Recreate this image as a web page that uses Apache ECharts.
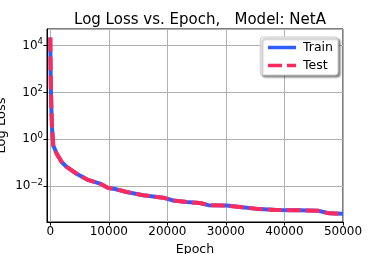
<!DOCTYPE html>
<html><head><meta charset="utf-8">
<script src="https://cdn.jsdelivr.net/npm/echarts@6/dist/echarts.min.js"></script>
<style>html,body{margin:0;padding:0;background:#fff}#c{width:382px;height:254px}</style>
</head><body><div id="c"></div>
<script>
var epochs = [0, 50, 120, 200, 300, 510, 1090, 1950, 2800, 4500, 6300, 8480, 9900, 11040, 13040, 15870, 19280, 21000, 23300, 25550, 27000, 30100, 32400, 35800, 38650, 42600, 45750, 47700, 50000];
var trainLog10 = [4.35, 3.0, 2.0, 1.2, 0.5, -0.26, -0.61, -0.97, -1.18, -1.47, -1.72, -1.89, -2.08, -2.12, -2.25, -2.39, -2.49, -2.61, -2.68, -2.72, -2.81, -2.83, -2.89, -2.98, -3.02, -3.03, -3.05, -3.16, -3.18];
var testLog10 = trainLog10.slice();
var yTicks = [-2, 0, 2, 4];
var xTicks = [0, 10000, 20000, 30000, 40000, 50000];

function pairs(xs, ys){ return xs.map(function(x,i){ return [x, ys[i]]; }); }
var chart = echarts.init(document.getElementById('c'), null, {renderer:'canvas'});
var font = 'DejaVu Sans';
chart.setOption({
  animation:false,
  title:{text:'Log Loss vs. Epoch,   Model: NetA', left:195, top:8, textAlign:'center',
    textStyle:{fontFamily:font, fontSize:15, fontWeight:'normal', color:'#000'}},
  grid:{left:47, right:39, top:29, bottom:32, containLabel:false, outerBoundsMode:'none',
    show:true, borderColor:'#000', borderWidth:1, backgroundColor:'transparent'},
  legend:{right:44, top:37, orient:'vertical', itemWidth:28, itemHeight:10, itemGap:5,
    padding:[4,5,3,6], backgroundColor:'#fff', borderColor:'#ccc', borderWidth:1, borderRadius:3,
    shadowColor:'rgba(0,0,0,0.45)', shadowBlur:2, shadowOffsetX:2, shadowOffsetY:2,
    itemStyle:{opacity:0}, lineStyle:{width:3.5},
    textStyle:{fontFamily:font, fontSize:12.5, color:'#000', padding:[0,0,0,2]},
    data:[{name:'Train'},{name:'Test'}]},
  xAxis:{type:'value', min:-560, max:50000, minInterval:10000, maxInterval:10000,
    name:'Epoch', nameLocation:'middle', nameGap:21, nameMoveOverlap:false,
    nameTextStyle:{fontFamily:font, fontSize:12.5, color:'#000'},
    axisLine:{show:true, onZero:false, lineStyle:{color:'#000'}},
    axisTick:{show:true, length:3.5, lineStyle:{color:'#000'}},
    axisLabel:{fontFamily:font, fontSize:12, color:'#000', margin:4, showMinLabel:false,
      formatter:function(v){ return xTicks.indexOf(v)>=0 ? String(v) : ''; }},
    splitLine:{show:true, lineStyle:{color:'#b0b0b0', width:1}}},
  yAxis:{type:'value', min:-3.53, max:4.71, minInterval:2, maxInterval:2,
    name:'Log Loss', nameLocation:'middle', nameGap:39, nameRotate:90, nameMoveOverlap:false,
    nameTextStyle:{fontFamily:font, fontSize:13, color:'#000'},
    axisLine:{show:true, onZero:false, lineStyle:{color:'#000'}},
    axisTick:{show:true, length:3.5, lineStyle:{color:'#000'}},
    axisLabel:{fontFamily:font, fontSize:12, color:'#000', margin:4, showMinLabel:false, showMaxLabel:false,
      formatter:function(v){ var r=Math.round(v); if(Math.abs(v-r)>1e-6||yTicks.indexOf(r)<0) return ''; return '{b|10}{s|'+(r<0?'\u2212'+(-r):r)+'}'; },
      rich:{b:{fontFamily:font, fontSize:12, color:'#000'}, s:{fontFamily:font, fontSize:8.5, color:'#000', verticalAlign:'top', padding:[0,0,7,0]}}},
    splitLine:{show:true, lineStyle:{color:'#b0b0b0', width:1}}},
  series:[
    {name:'Train', type:'line', data:pairs(epochs, trainLog10), symbol:'none', smooth:false,
      lineStyle:{color:'#2f5cff', width:4}, itemStyle:{color:'#2f5cff'}},
    {name:'Test', type:'line', data:pairs(epochs, testLog10), symbol:'none', smooth:false,
      lineStyle:{color:'#ff2a5c', width:4, type:[14,5]}, itemStyle:{color:'#ff2a5c'}}
  ]
});
</script></body></html>
